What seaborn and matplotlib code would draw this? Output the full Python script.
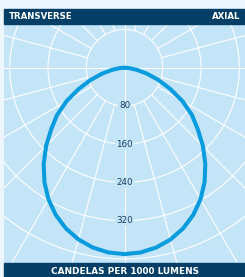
"""
Polar candela diagram (transverse / axial) drawn on a flat axis
"""

import numpy as np
import pandas as pd
import matplotlib
matplotlib.use("Agg")
import matplotlib.pyplot as plt
from matplotlib.patches import Rectangle
import seaborn as sns

# angles from nadir (deg) and candelas per 1000 lumens
angles = [0, 5, 10, 15, 20, 25, 30, 35, 40, 45, 50, 55, 60, 65, 70, 75, 80, 85, 90]
transverse_cd = [390, 388, 382, 372, 358, 340, 318, 292, 263, 232, 200, 172, 140, 106, 76, 49, 27, 10, 0]
axial_cd = [390, 388, 382, 372, 358, 340, 318, 292, 263, 232, 200, 172, 140, 106, 76, 49, 27, 10, 0]
ring_labels = [80, 160, 240, 320]
ring_values = [80, 160, 240, 320, 400, 480, 560]

FIG_BG = "#edf5fd"
PLOT_BG = "#c4e4f8"
NAVY = "#053e66"
CURVE = "#089cdf"
LABEL = "#1b3d5e"

sns.set_style("white")
plt.rcParams['font.family'] = ['DejaVu Sans']

fig = plt.figure(figsize=(2.45, 2.77), dpi=100, facecolor=FIG_BG)
ax = fig.add_axes([4 / 245, 14 / 277, 241 / 245, 239 / 277])
ax.set_facecolor(PLOT_BG)

# grid: rings and rays (only the axes pass through the centre)
theta_full = np.linspace(0, 2 * np.pi, 361)
for r in ring_values:
    ax.plot(r * np.sin(theta_full), r * np.cos(theta_full), color="white", lw=0.8, zorder=1)
for a in range(0, 360, 15):
    t = np.deg2rad(a)
    r0 = 0 if a % 90 == 0 else ring_values[0]
    ax.plot([r0 * np.sin(t), 700 * np.sin(t)], [r0 * np.cos(t), 700 * np.cos(t)],
            color="white", lw=0.8, zorder=1)

# curve: transverse on the left, axial on the right
t_tr = np.deg2rad(angles[::-1])
t_ax = np.deg2rad(angles)
curve = pd.DataFrame({
    'x': np.concatenate([-np.array(transverse_cd[::-1]) * np.sin(t_tr),
                         np.array(axial_cd) * np.sin(t_ax)]),
    'y': np.concatenate([-np.array(transverse_cd[::-1]) * np.cos(t_tr),
                         -np.array(axial_cd) * np.cos(t_ax)]),
})
sns.lineplot(data=curve, x='x', y='y', sort=False, estimator=None,
             color=CURVE, lw=2.9, ax=ax, zorder=3)

for r in ring_labels:
    ax.text(0, -r, str(r), ha='center', va='center', fontsize=6.3, color=LABEL,
            zorder=4, bbox=dict(facecolor=PLOT_BG, edgecolor='none', pad=0.6))

ax.set_xlim(-252, 252)
ax.set_ylim(-408.6, 91.4)
ax.set_xlabel('')
ax.set_ylabel('')
ax.set_xticks([])
ax.set_yticks([])
for s in ax.spines.values():
    s.set_visible(False)

# header and footer bars
fig.patches.append(Rectangle((4 / 245, (277 - 24) / 277), 241 / 245, 15 / 277,
                             transform=fig.transFigure, color=NAVY, zorder=5))
fig.patches.append(Rectangle((4 / 245, 0), 241 / 245, 14 / 277,
                             transform=fig.transFigure, color=NAVY, zorder=5))
fig.text(9 / 245, (277 - 16.5) / 277, 'TRANSVERSE', color='white', fontsize=6.2,
         fontweight='bold', ha='left', va='center', zorder=6)
fig.text(240 / 245, (277 - 16.5) / 277, 'AXIAL', color='white', fontsize=6.2,
         fontweight='bold', ha='right', va='center', zorder=6)
fig.text(125 / 245, 5.5 / 277, 'CANDELAS PER 1000 LUMENS', color='white', fontsize=6.4,
         fontweight='bold', ha='center', va='center', zorder=6)

fig.savefig('out.png', dpi=100, facecolor=FIG_BG)
